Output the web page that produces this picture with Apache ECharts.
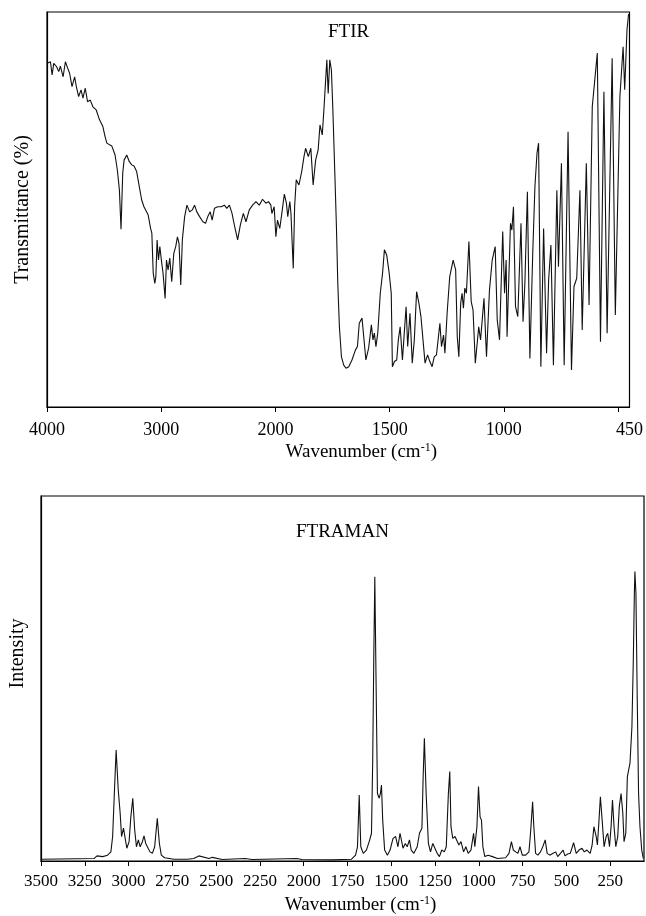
<!DOCTYPE html>
<html><head><meta charset="utf-8">
<script src="https://cdn.jsdelivr.net/npm/echarts@6/dist/echarts.min.js"></script>
<style>html,body{margin:0;padding:0;background:#fff}#c{width:646px;height:916px}</style>
</head><body><div id="c"></div>
<script>
// ---------- FTIR ----------
const ftirWavenumber = [3998,3970,3955,3941,3917,3897,3883,3859,3839,3819,
3802,3781,3758,3743,3723,3702,3685,3665,3645,3621,
3598,3569,3540,3511,3491,3476,3433,3404,3384,3366,
3352,3337,3325,3302,3279,3258,3238,3215,3192,3171,
3151,3134,3114,3093,3082,3070,3056,3047,3036,3024,
3012,2997,2984,2966,2954,2940,2925,2908,2890,2873,
2858,2844,2829,2815,2795,2775,2751,2728,2708,2688,
2664,2635,2612,2592,2571,2554,2534,2505,2475,2447,
2426,2403,2380,2360,2331,2307,2281,2258,2229,2200,
2171,2142,2113,2084,2061,2040,2031,2011,1998,1991,
1981,1970,1961,1952,1946,1937,1932,1926,1922,1916,
1909,1897,1885,1875,1868,1856,1845,1835,1824,1813,
1805,1795,1787,1781,1775,1769,1762,1755,1749,1740,
1733,1727,1720,1711,1701,1691,1679,1665,1650,1641,
1633,1621,1614,1604,1592,1580,1573,1567,1560,1552,
1541,1531,1523,1513,1502,1493,1488,1479,1469,1462,
1454,1444,1436,1428,1421,1411,1401,1392,1382,1372,
1363,1356,1345,1334,1324,1314,1305,1295,1280,1273,
1264,1258,1248,1237,1222,1211,1204,1197,1189,1183,
1177,1171,1164,1153,1143,1135,1125,1110,1102,1087,
1076,1063,1051,1038,1029,1019,1005,997,990,986,
971,965,958,949,939,925,916,908,897,886,
874,864,855,848,838,826,813,804,794,783,
768,761,748,736,719,704,693,681,667,657,
639,627,613,591,577,562,548,526,512,504,
492,478,471,461,454];
const ftirTransmittance = [87.0,87.4,84.1,87.0,86.2,84.9,86.3,83.6,87.4,85.8,
84.5,81.1,83.6,81.1,78.6,80.3,78.2,80.7,77.3,77.7,
76.0,75.2,72.7,71.0,68.4,66.8,66.1,63.8,60.0,54.9,
45.0,59.2,62.5,63.8,62.1,61.3,61.0,59.6,55.8,52.4,
50.7,51.1,48.6,45.2,44.0,33.9,31.3,33.0,42.3,37.2,
40.6,36.8,33.9,27.5,37.2,34.7,37.7,31.7,38.9,40.6,
43.1,41.4,30.9,42.3,48.2,51.1,49.4,49.9,51.1,49.4,
48.2,46.9,46.5,48.2,49.4,47.3,50.3,50.7,50.7,51.1,
50.3,51.1,49.0,46.1,42.3,46.1,49.0,46.9,49.9,51.1,
52.0,51.1,52.6,51.6,52.0,51.1,49.0,50.7,43.1,47.3,
45.2,49.9,53.9,51.6,48.2,52.0,49.0,40.6,35.1,50.7,
57.5,56.2,59.6,63.4,65.5,63.4,65.5,56.2,62.5,65.1,
71.4,68.9,76.0,82.0,87.9,79.4,87.9,85.3,76.0,59.2,
45.7,31.3,20.3,12.7,10.6,9.8,10.2,11.9,14.4,15.3,
21.2,22.5,22.9,11.9,14.9,20.8,17.0,18.7,15.3,18.7,
28.8,33.9,39.8,38.5,33.9,28.8,10.2,11.5,11.9,17.0,
20.3,11.9,18.7,25.4,15.3,23.7,11.1,17.0,29.2,26.3,
22.9,22.5,11.1,13.2,11.5,10.2,12.7,13.2,21.2,15.3,
18.2,13.6,24.1,33.0,37.2,34.7,17.8,12.7,26.3,28.8,
25.0,30.1,28.8,41.9,26.7,24.6,11.1,20.3,17.0,27.5,
12.7,29.6,37.2,40.6,22.0,17.0,44.4,28.8,37.2,17.8,
46.5,44.8,50.7,25.4,22.9,46.5,21.6,31.3,54.5,12.3,
38.1,55.8,64.2,66.8,10.2,45.2,13.6,32.2,41.0,10.6,
54.9,35.5,61.7,10.6,69.7,9.4,30.5,32.6,54.9,19.5,
61.7,25.8,76.0,89.6,16.5,79.8,18.7,88.3,23.3,23.7,
78.6,91.2,80.3,95.5,99.5];
const ftirTickLabels = [4000,3000,2000,1500,1000,450];
const ftirTickMarks = [4000,3000,2000,1500,1000,500];

// ---------- FT-Raman ----------
const ramanWavenumber = [3498,3196,3180,3148,3120,3101,3091,3082,3071,3059,
3048,3040,3029,3021,3010,2997,2987,2976,2965,2955,
2944,2934,2921,2912,2902,2892,2878,2864,2851,2836,
2824,2813,2794,2741,2665,2628,2599,2588,2540,2522,
2465,2334,2295,2039,2011,1840,1727,1704,1693,1683,
1674,1660,1642,1623,1613,1606,1600,1594,1586,1579,
1569,1562,1556,1549,1538,1522,1507,1490,1475,1462,
1450,1443,1433,1420,1409,1396,1386,1371,1352,1339,
1325,1318,1311,1301,1288,1276,1263,1254,1238,1225,
1212,1197,1186,1174,1166,1159,1149,1136,1125,1114,
1102,1087,1074,1061,1045,1030,1023,1011,1002,993,
985,977,966,947,922,894,847,828,814,803,
790,777,765,752,733,714,705,693,686,676,
663,648,635,621,610,595,576,561,550,534,
519,508,493,478,459,444,428,411,398,383,
364,353,343,330,323,315,306,296,285,273,
264,254,245,237,228,218,207,198,188,178,
171,161,152,137,126,118,112,109,103,96,
88,80,70,61];
const ramanIntensity = [0.5,0.7,1.4,1.2,1.6,2.5,6.7,17.6,30.4,19.5,
13.1,6.7,9.0,6.7,3.5,5.3,12.1,17.2,8.5,3.9,
5.8,3.9,5.3,6.9,4.8,5.3,2.5,2.1,3.9,11.7,
4.8,1.6,0.9,0.5,0.5,0.7,1.4,1.6,0.7,1.0,
0.4,0.7,0.4,0.7,0.4,0.3,0.5,1.6,3.9,18.1,
3.9,2.1,3.0,5.8,7.6,27.7,55.1,77.9,45.9,18.5,
17.2,18.5,20.8,11.2,3.0,1.6,3.0,6.2,6.7,3.9,
7.6,8.0,3.5,4.8,3.9,5.8,3.0,2.1,3.9,7.6,
9.0,23.1,33.6,18.5,4.8,2.5,4.8,5.3,2.1,1.2,
3.0,2.5,3.9,18.5,24.5,9.4,6.2,6.7,6.2,4.4,
5.3,2.5,3.9,2.1,3.0,7.6,3.9,9.4,20.4,12.1,
11.2,3.9,1.2,1.6,1.2,0.7,0.9,2.1,5.3,3.0,
2.5,2.1,3.9,1.6,1.6,2.5,7.6,16.2,9.4,2.1,
1.6,2.5,3.9,5.8,2.1,1.6,2.1,2.5,1.2,2.1,
3.0,1.4,1.9,2.1,5.0,2.1,3.0,3.5,2.5,3.0,
2.1,4.4,9.4,6.7,4.4,10.3,17.6,11.2,3.9,6.7,
7.6,3.9,9.4,16.7,9.4,3.9,6.7,14.9,18.5,13.1,
5.3,7.6,23.1,26.8,36.8,55.1,73.3,79.3,73.3,45.9,
18.5,9.4,3.0,0.7];
const ramanTickLabels = [3500,3250,3000,2750,2500,2250,2000,1750,1500,1250,1000,750,500,250];

// FTIR instrument scale: 1000 cm-1 per division above 2000, 500 cm-1 per division below
function ftirPos(w){ return w >= 2000 ? (4000 - w) / 1000 : 2 + (2000 - w) / 500; }

const FONT = 'Liberation Serif';
const BLACK = '#000';
const ftirData = ftirWavenumber.map((w, i) => [ftirPos(w), ftirTransmittance[i]]);
const ramanData = ramanWavenumber.map((w, i) => [w, ramanIntensity[i]]);

const chart = echarts.init(document.getElementById('c'), null, {renderer: 'canvas'});
const supRich = { sup: { fontFamily: FONT, fontSize: 12, color: BLACK, padding: [0, 0, 9, 0] } };

chart.setOption({
  animation: false,
  backgroundColor: '#fff',
  title: [
    { text: 'FTIR', left: 323, top: 18, textStyle: { fontFamily: FONT, fontSize: 19, fontWeight: 'normal', color: BLACK } },
    { text: 'FTRAMAN', left: 291, top: 518, textStyle: { fontFamily: FONT, fontSize: 19, fontWeight: 'normal', color: BLACK } }
  ],
  grid: [
    { left: 47, top: 12, width: 585, height: 395, show: true, borderColor: BLACK, borderWidth: 1.2, backgroundColor: 'transparent' },
    { left: 38, top: 496, width: 606, height: 365, show: true, borderColor: BLACK, borderWidth: 1.2, backgroundColor: 'transparent' }
  ],
  xAxis: [
    {
      gridIndex: 0, type: 'value', min: 0, max: ftirPos(450),
      axisLine: { show: true, lineStyle: { color: BLACK, width: 1.2 } },
      axisTick: { show: true, length: 5, customValues: ftirTickMarks.map(ftirPos), lineStyle: { color: BLACK } },
      axisLabel: {
        customValues: ftirTickLabels.map(ftirPos), margin: 14,
        fontFamily: FONT, fontSize: 18, color: BLACK,
        formatter: v => { const l = ftirTickLabels.find(t => Math.abs(ftirPos(t) - v) < 1e-6); return l === undefined ? '' : String(l); }
      },
      splitLine: { show: false },
      name: 'Wavenumber (cm{sup|-1})', nameLocation: 'middle', nameGap: 35,
      nameTextStyle: { fontFamily: FONT, fontSize: 19, color: BLACK, padding: [0, 0, 0, 46], rich: supRich }
    },
    {
      gridIndex: 1, type: 'value', inverse: true, min: 57, max: 3500,
      axisLine: { show: true, lineStyle: { color: BLACK, width: 1.2 } },
      axisTick: { show: true, length: 5, customValues: ramanTickLabels, lineStyle: { color: BLACK } },
      axisLabel: { customValues: ramanTickLabels, margin: 12, fontFamily: FONT, fontSize: 17, color: BLACK,
        formatter: v => String(Math.round(v)) },
      splitLine: { show: false },
      name: 'Wavenumber (cm{sup|-1})', nameLocation: 'middle', nameGap: 34,
      nameTextStyle: { fontFamily: FONT, fontSize: 19, color: BLACK, padding: [0, 0, 0, 36], rich: supRich }
    }
  ],
  yAxis: [
    {
      gridIndex: 0, type: 'value', min: 0, max: 100,
      axisLine: { show: true, lineStyle: { color: BLACK, width: 1.2 } },
      axisTick: { show: false }, axisLabel: { show: false }, splitLine: { show: false },
      name: 'Transmittance (%)', nameLocation: 'middle', nameGap: 14,
      nameTextStyle: { fontFamily: FONT, fontSize: 20, color: BLACK }
    },
    {
      gridIndex: 1, type: 'value', min: 0, max: 100,
      axisLine: { show: true, lineStyle: { color: BLACK, width: 1.2 } },
      axisTick: { show: false }, axisLabel: { show: false }, splitLine: { show: false },
      name: 'Intensity', nameLocation: 'middle', nameGap: 13,
      nameTextStyle: { fontFamily: FONT, fontSize: 20, color: BLACK, padding: [0, 0, 0, 50] }
    }
  ],
  series: [
    { type: 'line', xAxisIndex: 0, yAxisIndex: 0, data: ftirData, showSymbol: false, symbol: 'none',
      lineStyle: { color: '#111', width: 1.1 }, silent: true },
    { type: 'line', xAxisIndex: 1, yAxisIndex: 1, data: ramanData, showSymbol: false, symbol: 'none',
      lineStyle: { color: '#111', width: 1.1 }, silent: true }
  ]
});
</script></body></html>
